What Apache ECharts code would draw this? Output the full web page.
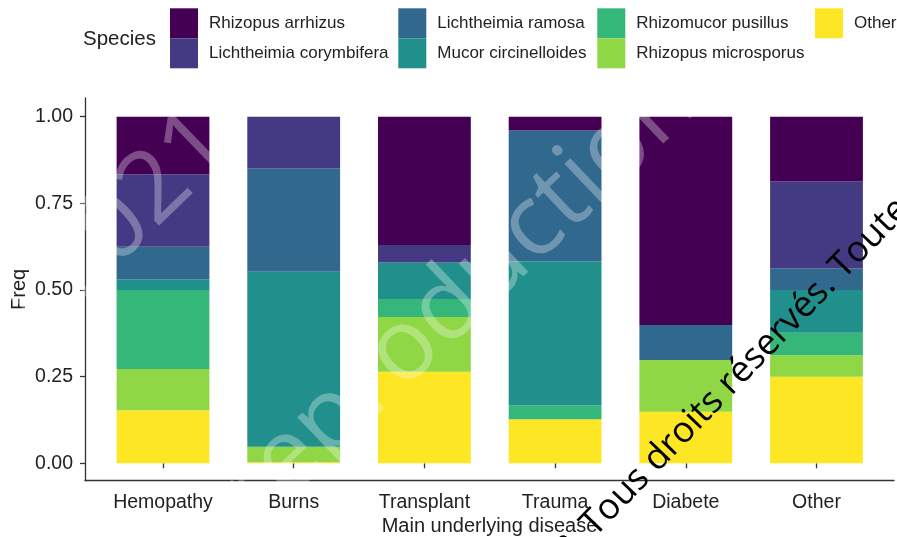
<!DOCTYPE html>
<html>
<head>
<meta charset="utf-8">
<script src="https://cdn.jsdelivr.net/npm/echarts@6/dist/echarts.min.js"></script>
<style>
  html, body { margin: 0; padding: 0; background: #fff; }
  #chart { width: 897px; height: 537px; }
</style>
</head>
<body>
<div id="chart"></div>
<script>
  // categories (x axis)
  const diseases = ['Hemopathy', 'Burns', 'Transplant', 'Trauma', 'Diabete', 'Other'];
  // share of each species per disease
  const rhizopusArrhizus = [0.166, 0, 0.370, 0.040, 0.601, 0.186];
  const lichtheimiaCorymbifera = [0.209, 0.149, 0.051, 0, 0, 0.251];
  const lichtheimiaRamosa = [0.094, 0.298, 0, 0.378, 0.101, 0.063];
  const mucorCircinelloides = [0.031, 0.505, 0.105, 0.415, 0, 0.123];
  const rhizomucorPusillus = [0.228, 0, 0.052, 0.040, 0, 0.065];
  const rhizopusMicrosporus = [0.119, 0.045, 0.158, 0, 0.149, 0.062];
  const otherSpecies = [0.153, 0.003, 0.264, 0.127, 0.149, 0.250];
  // y ticks
  const yTicks = [0, 0.25, 0.5, 0.75, 1];

  const font = '"Liberation Sans", Arial, sans-serif';
  const axisColor = '#333';
  const textColor = '#222';

  // stacking order: bottom -> top
  const stackList = [
    { name: 'Other', data: otherSpecies, color: '#FDE725' },
    { name: 'Rhizopus microsporus', data: rhizopusMicrosporus, color: '#8FD744' },
    { name: 'Rhizomucor pusillus', data: rhizomucorPusillus, color: '#35B779' },
    { name: 'Mucor circinelloides', data: mucorCircinelloides, color: '#21908C' },
    { name: 'Lichtheimia ramosa', data: lichtheimiaRamosa, color: '#31688E' },
    { name: 'Lichtheimia corymbifera', data: lichtheimiaCorymbifera, color: '#443A83' },
    { name: 'Rhizopus arrhizus', data: rhizopusArrhizus, color: '#440154' }
  ];

  const series = stackList.map(s => ({
    name: s.name,
    type: 'bar',
    stack: 'total',
    xAxisIndex: 1,
    yAxisIndex: 1,
    barWidth: '71%',
    data: s.data,
    itemStyle: { color: s.color },
    emphasis: { disabled: true }
  }));

  // legend in 4 columns of 2 (column-major like ggplot)
  const legendCols = [
    { left: 170, data: ['Rhizopus arrhizus', 'Lichtheimia corymbifera'] },
    { left: 398.3, data: ['Lichtheimia ramosa', 'Mucor circinelloides'] },
    { left: 597.3, data: ['Rhizomucor pusillus', 'Rhizopus microsporus'] },
    { left: 815, data: ['Other'] }
  ];
  const legend = legendCols.map(c => ({
    orient: 'vertical',
    left: c.left,
    top: 8.3,
    padding: 0,
    itemWidth: 28,
    itemHeight: 30,
    itemGap: 0,
    icon: 'rect',
    selectedMode: false,
    data: c.data,
    textStyle: { fontSize: 17, color: textColor, fontFamily: font, padding: [0, 0, 0, 6] }
  }));

  const myChart = echarts.init(document.getElementById('chart'));
  const option = {
    animation: false,
    backgroundColor: '#fff',
    title: {
      text: 'Species', left: 83, top: 29, padding: 0,
      textStyle: { fontSize: 20.5, fontWeight: 'normal', color: textColor, fontFamily: font }
    },
    legend,
    grid: [
      // axis-line frame (ggplot expanded range)
      { left: 85, top: 98, width: 809, height: 382.7, outerBoundsMode: 'none' },
      // data area
      { left: 97.65, top: 116.7, width: 784.2, height: 346.6, outerBoundsMode: 'none' }
    ],
    xAxis: [
      {
        gridIndex: 0, type: 'value', min: 0, max: 1,
        axisLine: { show: true, onZero: false, lineStyle: { color: axisColor, width: 1.3 } },
        axisTick: { show: false }, axisLabel: { show: false }, splitLine: { show: false },
        name: 'Main underlying disease', nameLocation: 'middle', nameGap: 36,
        nameTextStyle: { fontSize: 20, color: textColor, fontFamily: font }
      },
      {
        gridIndex: 1, type: 'category', data: diseases, offset: 17.4,
        axisLine: { show: false },
        axisTick: { show: true, alignWithLabel: true, length: 5, lineStyle: { color: axisColor, width: 1.3 } },
        axisLabel: { margin: 12, fontSize: 19.5, color: textColor, fontFamily: font },
        splitLine: { show: false }
      }
    ],
    yAxis: [
      {
        gridIndex: 0, type: 'value', min: 0, max: 1,
        axisLine: { show: true, onZero: false, lineStyle: { color: axisColor, width: 1.3 } },
        axisTick: { show: false }, axisLabel: { show: false }, splitLine: { show: false },
        name: 'Freq', nameLocation: 'middle', nameGap: 56,
        nameTextStyle: { fontSize: 20, color: textColor, fontFamily: font }
      },
      {
        gridIndex: 1, type: 'value',
        min: yTicks[0], max: yTicks[yTicks.length - 1], interval: yTicks[1] - yTicks[0],
        offset: 12.65,
        axisLine: { show: false },
        axisTick: { show: true, length: 5, lineStyle: { color: axisColor, width: 1.3 } },
        axisLabel: { margin: 12, fontSize: 19.5, color: textColor, fontFamily: font, formatter: v => v.toFixed(2) },
        splitLine: { show: false }
      }
    ],
    series,
    // watermark printed over the figure
    graphic: [
      {
        type: 'text', x: 218, y: 129, rotation: 44 * Math.PI / 180, z: 100, silent: true,
        style: {
          text: '© 2021', font: '100px "Open Sans"', fill: 'rgba(255,255,255,0.3)',
          textAlign: 'right', align: 'right', textVerticalAlign: 'middle', verticalAlign: 'middle'
        }
      },
      {
        type: 'text', x: 238, y: 508, rotation: 43.5 * Math.PI / 180, z: 100, silent: true,
        style: {
          text: 'reproduction', font: '100px "Open Sans"', fill: 'rgba(255,255,255,0.3)',
          textAlign: 'left', align: 'left', textVerticalAlign: 'middle', verticalAlign: 'middle'
        }
      },
      {
        type: 'text', x: 733, y: 380, rotation: 46 * Math.PI / 180, z: 101, silent: true,
        style: {
          text: '& Tous droits réservés. Toute', font: '36px "Open Sans"', fill: '#000',
          textAlign: 'center', align: 'center', textVerticalAlign: 'middle', verticalAlign: 'middle'
        }
      }
    ]
  };
  myChart.setOption(option);
</script>
</body>
</html>
